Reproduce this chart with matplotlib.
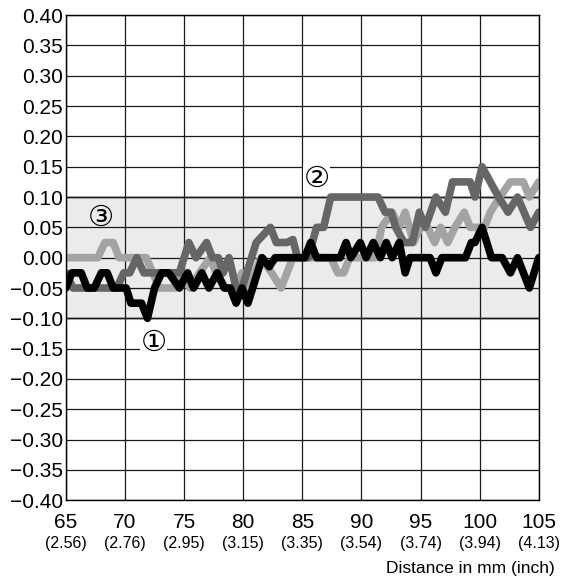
import matplotlib
matplotlib.use("Agg")
import matplotlib.pyplot as plt
import matplotlib.transforms as mtransforms

plt.rcParams['font.family'] = ['Liberation Sans', 'DejaVu Sans']

# curve 1 (black)
x1 = [65.0, 65.5, 66.3, 66.8, 67.4, 68.0, 68.5, 69.0, 70.1, 70.5, 71.4, 71.9,
      72.5, 73.1, 73.7, 74.6, 75.3, 75.8, 76.5, 77.1, 77.8, 78.4, 78.9, 79.4,
      79.9, 80.4, 81.6, 82.2, 82.7, 85.2, 85.7, 86.2, 88.2, 88.7, 89.1, 89.9,
      90.4, 91.0, 91.6, 92.1, 92.6, 93.2, 93.7, 94.1, 95.8, 96.3, 96.8, 98.8,
      99.3, 99.6, 100.2, 101.0, 101.9, 102.6, 103.2, 104.2, 105.0]
y1 = [-0.05, -0.025, -0.025, -0.05, -0.05, -0.025, -0.025, -0.05, -0.05, -0.075, -0.075, -0.10,
      -0.05, -0.025, -0.025, -0.05, -0.025, -0.05, -0.025, -0.05, -0.025, -0.05, -0.05, -0.075,
      -0.05, -0.075, 0.0, -0.015, 0.0, 0.0, 0.025, 0.0, 0.0, 0.025, 0.0, 0.025,
      0.0, 0.025, 0.0, 0.025, 0.0, 0.025, -0.025, 0.0, 0.0, -0.025, 0.0, 0.0,
      0.025, 0.025, 0.05, 0.0, 0.0, -0.025, 0.0, -0.05, 0.0]

# curve 2 (dark grey)
x2 = [65.0, 65.6, 69.3, 69.9, 70.4, 71.0, 71.6, 74.6, 75.4, 76.0, 76.9, 77.4,
      77.9, 78.3, 78.8, 79.4, 79.9, 81.1, 82.3, 82.8, 83.3, 83.7, 84.2, 84.6,
      85.5, 86.2, 86.8, 87.4, 91.4, 92.0, 92.5, 92.9, 93.6, 94.3, 94.9, 95.4,
      96.3, 97.1, 97.7, 99.2, 99.6, 100.2, 101.6, 102.4, 103.2, 104.3, 105.0]
y2 = [-0.025, -0.05, -0.05, -0.025, -0.025, 0.0, -0.025, -0.025, 0.025, 0.0, 0.025, 0.0,
      0.0, -0.025, 0.0, -0.05, -0.05, 0.025, 0.05, 0.025, 0.025, 0.025, 0.03, 0.0,
      0.0, 0.05, 0.05, 0.10, 0.10, 0.075, 0.075, 0.05, 0.025, 0.025, 0.075, 0.05,
      0.10, 0.075, 0.125, 0.125, 0.10, 0.15, 0.10, 0.075, 0.10, 0.05, 0.075]

# curve 3 (light grey)
x3 = [65.0, 67.7, 68.3, 69.0, 69.5, 71.8, 72.9, 74.3, 74.9, 75.5, 76.3, 77.2,
      77.7, 78.5, 79.2, 79.9, 80.5, 81.5, 82.4, 83.2, 84.2, 87.4, 88.0, 88.5,
      89.0, 91.2, 91.7, 92.6, 93.2, 93.7, 94.4, 95.0, 95.6, 96.2, 96.7, 97.3,
      97.9, 98.7, 99.2, 100.4, 100.9, 101.7, 102.6, 103.7, 104.2, 105.0]
y3 = [0.0, 0.0, 0.025, 0.025, 0.0, 0.0, -0.05, -0.05, -0.025, -0.05, -0.025, 0.0,
      -0.025, -0.05, -0.05, -0.025, -0.05, 0.0, -0.025, -0.05, 0.0, 0.0, -0.025, -0.025,
      0.0, 0.0, 0.05, 0.075, 0.05, 0.075, 0.025, 0.05, 0.05, 0.025, 0.05, 0.025,
      0.05, 0.075, 0.05, 0.05, 0.075, 0.10, 0.125, 0.125, 0.10, 0.125]

mm_ticks = [65, 70, 75, 80, 85, 90, 95, 100, 105]
inch_labels = ["(2.56)", "(2.76)", "(2.95)", "(3.15)", "(3.35)", "(3.54)", "(3.74)", "(3.94)", "(4.13)"]
y_ticks = [-0.40, -0.35, -0.30, -0.25, -0.20, -0.15, -0.10, -0.05, 0.0,
           0.05, 0.10, 0.15, 0.20, 0.25, 0.30, 0.35, 0.40]

fig = plt.figure(figsize=(5.63, 5.83), dpi=100)
ax = fig.add_axes([0.117, 0.142, 0.840, 0.832])

# tolerance band
ax.axhspan(-0.10, 0.10, color='#ebebeb', zorder=0, lw=0)
ax.axhline(0.10, color='#b4b4b4', lw=2.2, zorder=1)
ax.axhline(-0.10, color='#b4b4b4', lw=2.2, zorder=1)

ax.plot(x3, y3, color='#a3a3a3', lw=5.5, solid_joinstyle='round', solid_capstyle='round', zorder=3)
ax.plot(x2, y2, color='#666666', lw=5.5, solid_joinstyle='round', solid_capstyle='round', zorder=4)
ax.plot(x1, y1, color='#000000', lw=5.5, solid_joinstyle='round', solid_capstyle='round', zorder=5)

ax.set_xlim(65, 105)
ax.set_ylim(-0.40, 0.40)
ax.set_xticks(mm_ticks)
ax.set_xticklabels([str(t) for t in mm_ticks], fontsize=15)
ax.set_yticks(y_ticks)
ax.set_yticklabels([f"{v:.2f}".replace("-", "\u2212") if abs(v) > 1e-9 else "0.00" for v in y_ticks],
                   fontsize=15)
ax.tick_params(length=0, pad=2)
ax.tick_params(axis='x', pad=9)
ax.grid(True, color='#1a1a1a', lw=0.9, zorder=2)
ax.set_axisbelow(False)
for s in ax.spines.values():
    s.set_linewidth(1.0)
    s.set_zorder(6)

trans = mtransforms.blended_transform_factory(ax.transData, ax.transAxes)
for t, lab in zip(mm_ticks, inch_labels):
    ax.text(t, -0.074, lab, transform=trans, ha='center', va='top', fontsize=11.5)

fig.text(0.986, 0.012, "Distance in mm (inch)", ha='right', va='bottom', fontsize=12.5)

# curve markers
ax.text(72.4, -0.14, "\u2460", fontsize=21, ha='center', va='center', zorder=7,
        family=['DejaVu Sans'], bbox=dict(facecolor='white', edgecolor='none', pad=0.3))
ax.text(86.2, 0.13, "\u2461", fontsize=21, ha='center', va='center', zorder=7,
        family=['DejaVu Sans'], bbox=dict(facecolor='white', edgecolor='none', pad=0.3))
ax.text(68.0, 0.066, "\u2462", fontsize=21, ha='center', va='center', zorder=7,
        family=['DejaVu Sans'])

fig.savefig("out.png", dpi=100)
